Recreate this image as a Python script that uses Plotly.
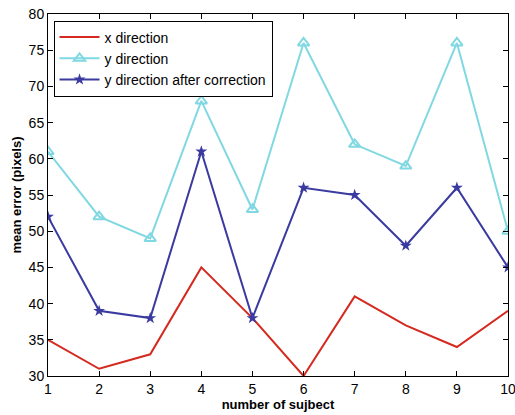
import plotly.graph_objects as go

subjects = [1, 2, 3, 4, 5, 6, 7, 8, 9, 10]
x_direction = [35, 31, 33, 45, 38, 30, 41, 37, 34, 39]
y_direction = [61, 52, 49, 68, 53, 76, 62, 59, 76, 50]
y_corrected = [52, 39, 38, 61, 38, 56, 55, 48, 56, 45]

fig = go.Figure()
fig.add_trace(go.Scatter(x=subjects, y=x_direction, mode="lines", name="x direction",
                         line=dict(color="#d42a20", width=2)))
fig.add_trace(go.Scatter(x=subjects, y=y_direction, mode="lines+markers", name="y direction",
                         line=dict(color="#80d8e2", width=2),
                         marker=dict(symbol="triangle-up-open", size=10, color="#80d8e2",
                                     line=dict(width=2, color="#80d8e2"))))
fig.add_trace(go.Scatter(x=subjects, y=y_corrected, mode="lines+markers", name="y direction after correction",
                         line=dict(color="#3a3aa0", width=2),
                         marker=dict(symbol="star", size=9, color="#3a3aa0")))

axis_common = dict(showgrid=False, zeroline=False, showline=True, linecolor="black", linewidth=1,
                   mirror="ticks", ticks="inside", ticklen=5, tickcolor="black", automargin=False,
                   ticklabeloverflow="allow",
                   tickfont=dict(family="Liberation Sans, Arial", size=14, color="black"))
fig.update_xaxes(range=[1, 10], tickvals=subjects, **axis_common,
                 title=dict(text="<b>number of sujbect</b>", standoff=2,
                            font=dict(family="Liberation Sans, Arial", size=13, color="black")))
fig.update_yaxes(range=[30, 80], dtick=5, **axis_common,
                 title=dict(text="<b>mean error (pixels)</b>", standoff=4,
                            font=dict(family="Liberation Sans, Arial", size=13, color="black")))

fig.update_layout(
    width=515, height=415,
    margin=dict(l=48, r=7, t=14, b=39),
    paper_bgcolor="white", plot_bgcolor="white",
    showlegend=True,
    legend=dict(x=0.012, y=0.982, xanchor="left", yanchor="top",
                bordercolor="black", borderwidth=1, bgcolor="white",
                font=dict(family="Liberation Sans, Arial", size=14, color="black"),
                tracegroupgap=0, itemwidth=40),
)
fig.write_html("out.html", config={"displayModeBar": False},
               post_script="document.body.style.margin='0';")
